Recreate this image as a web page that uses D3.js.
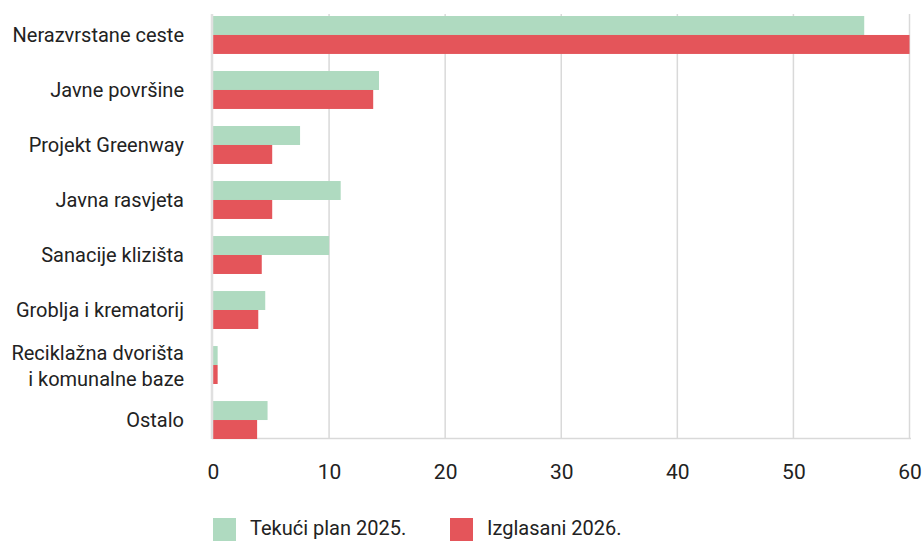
<!DOCTYPE html>
<html>
<head>
<meta charset="utf-8">
<script src="https://cdn.jsdelivr.net/npm/d3@7"></script>
<style>
  html, body { margin: 0; padding: 0; background: #fff; }
  svg { display: block; font-family: Roboto, "Noto Sans", sans-serif; }
</style>
</head>
<body>
<div class="chart"></div>
<script>
const categories = [
  "Nerazvrstane ceste",
  "Javne površine",
  "Projekt Greenway",
  "Javna rasvjeta",
  "Sanacije klizišta",
  "Groblja i krematorij",
  "Reciklažna dvorišta\ni komunalne baze",
  "Ostalo",
];
const plan2025 = [56.1, 14.3, 7.5, 11.0, 10.0, 4.5, 0.4, 4.7];
const voted2026 = [60.0, 13.8, 5.1, 5.1, 4.2, 3.9, 0.4, 3.8];
const seriesNames = ["Tekući plan 2025.", "Izglasani 2026."];
const xTicks = [0, 10, 20, 30, 40, 50, 60];

const width = 922;
const height = 541;
const colors = ["#afdac0", "#e4555a"];

const rows = categories.map((c, i) => ({ cat: c, values: [plan2025[i], voted2026[i]] }));

const svg = d3.select(".chart")
  .append("svg")
  .attr("width", width)
  .attr("height", height);

const x = d3.scaleLinear().domain([0, 60]).range([213, 909.5]);

const y = d3.scaleBand()
  .domain(categories)
  .range([16, 439])
  .paddingInner(0.31)
  .paddingOuter(0);

const ySub = d3.scaleBand()
  .domain([0, 1])
  .range([0, y.bandwidth()]);

// vertical grid
svg.append("g")
  .selectAll("line")
  .data(xTicks.slice(1))
  .join("line")
  .attr("x1", (d) => x(d))
  .attr("x2", (d) => x(d))
  .attr("y1", 14)
  .attr("y2", 438)
  .attr("stroke", "#d9d9d9")
  .attr("stroke-width", 1.5);

// bottom axis line
svg.append("line")
  .attr("x1", 212)
  .attr("x2", 911)
  .attr("y1", 438.5)
  .attr("y2", 438.5)
  .attr("stroke", "#d9d9d9")
  .attr("stroke-width", 1.5);

// bars
const groups = svg.append("g")
  .selectAll("g")
  .data(rows)
  .join("g")
  .attr("transform", (d) => `translate(0,${y(d.cat)})`);

groups.selectAll("rect")
  .data((d) => d.values.map((v, k) => ({ v, k })))
  .join("rect")
  .attr("x", x(0))
  .attr("y", (d) => ySub(d.k))
  .attr("width", (d) => x(d.v) - x(0))
  .attr("height", ySub.bandwidth())
  .attr("fill", (d) => colors[d.k]);

// left axis line
svg.append("line")
  .attr("x1", 212)
  .attr("x2", 212)
  .attr("y1", 14)
  .attr("y2", 439)
  .attr("stroke", "#e0e0e0")
  .attr("stroke-width", 2.5);

// x axis labels
const xAxis = svg.append("g")
  .attr("transform", "translate(0,450)")
  .call(d3.axisBottom(x).tickValues(xTicks).tickSize(0).tickPadding(0))
  .call((g) => g.select(".domain").remove());

xAxis.selectAll("text")
  .attr("dy", "0.71em")
  .attr("y", 14)
  .style("font-size", "21px")
  .style("font-family", "Roboto, sans-serif")
  .attr("fill", "#222");

// y axis labels
const yLabels = svg.append("g")
  .selectAll("text")
  .data(categories)
  .join("text")
  .attr("text-anchor", "end")
  .attr("x", 184)
  .attr("y", (d) => y(d) + y.bandwidth() / 2)
  .style("font-size", "20px")
  .attr("fill", "#222");

yLabels.each(function (d) {
  const lines = d.split("\n");
  const t = d3.select(this);
  lines.forEach((line, i) => {
    t.append("tspan")
      .attr("x", 184)
      .attr("dy", i === 0 ? `${0.35 - (lines.length - 1) * 0.58}em` : "1.27em")
      .text(line);
  });
});

// legend
const legendX = [213, 450];
const legend = svg.append("g")
  .selectAll("g")
  .data(seriesNames)
  .join("g")
  .attr("transform", (d, i) => `translate(${legendX[i]},518)`);

legend.append("rect")
  .attr("width", 23)
  .attr("height", 23)
  .attr("fill", (d, i) => colors[i]);

legend.append("text")
  .attr("x", 37)
  .attr("y", 10)
  .attr("dy", "0.35em")
  .style("font-size", "20px")
  .attr("fill", "#222")
  .text((d) => d);
</script>
</body>
</html>
